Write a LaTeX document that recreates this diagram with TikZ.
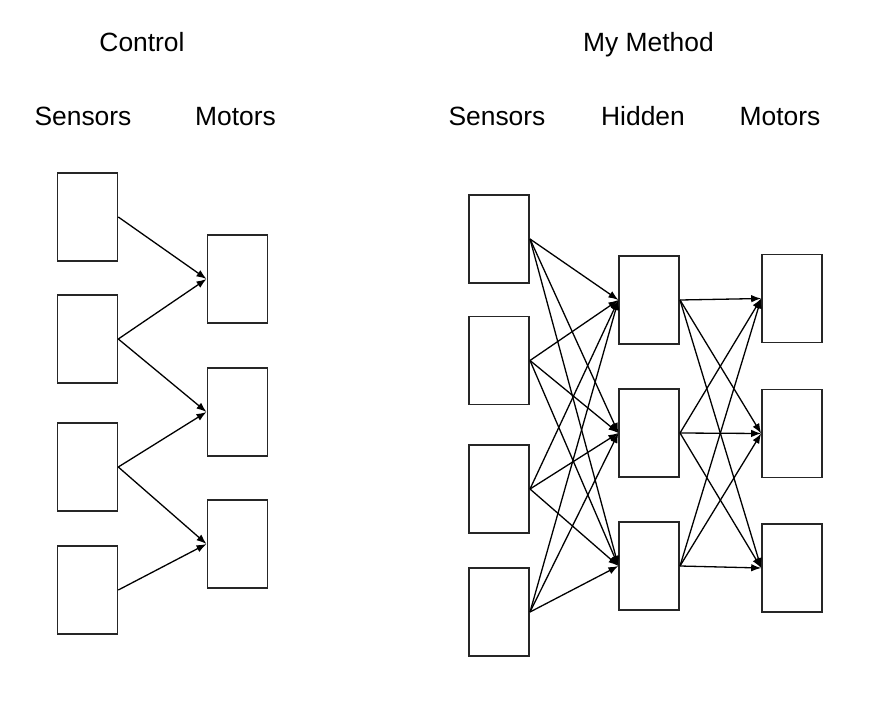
\documentclass[tikz,border=0pt]{standalone}
\usepackage{fontspec}
\setmainfont{Liberation Sans}
\usetikzlibrary{arrows.meta}

\begin{document}
\begin{tikzpicture}[
    x=1pt, y=-1pt,
    unit/.style={rectangle, draw=black!85, line width=1.6pt, fill=white,
        minimum width=60pt, minimum height=88pt, inner sep=0pt},
    heading/.style={anchor=base, inner sep=0pt, font=\fontsize{26.4}{30}\selectfont},
    edge/.style={line width=1.3pt, -{Latex[length=10pt,width=7.5pt]}}
]
    \useasboundingbox (0,0) rectangle (884,712);
    % headings
    \node[heading] (ctrl) at (142,51) {Control};
    \node[heading] (mine) at (648.5,51) {My Method};
    \node[heading] (lsens) at (83,125) {Sensors};
    \node[heading] (lmot) at (235.5,125) {Motors};
    \node[heading] (rsens) at (497,125) {Sensors};
    \node[heading] (rhid) at (643,125) {Hidden};
    \node[heading] (rmot) at (780,125) {Motors};
    % control network
    \node[unit] (s1) at (87.5,217) {};
    \node[unit] (s2) at (87.5,339) {};
    \node[unit] (s3) at (87.5,467) {};
    \node[unit] (s4) at (87.5,590) {};
    \node[unit] (m1) at (237.3,279) {};
    \node[unit] (m2) at (237.3,412) {};
    \node[unit] (m3) at (237.3,544) {};
    \draw[edge] (s1.east) -- (m1.west);
    \draw[edge] (s2.east) -- (m1.west);
    \draw[edge] (s2.east) -- (m2.west);
    \draw[edge] (s3.east) -- (m2.west);
    \draw[edge] (s3.east) -- (m3.west);
    \draw[edge] (s4.east) -- (m3.west);
    % my method network
    \node[unit] (t1) at (499.2,239) {};
    \node[unit] (t2) at (499.2,360.5) {};
    \node[unit] (t3) at (499.2,489) {};
    \node[unit] (t4) at (499.2,612) {};
    \node[unit] (h1) at (649.2,300) {};
    \node[unit] (h2) at (649.2,433) {};
    \node[unit] (h3) at (649.2,566) {};
    \node[unit] (n1) at (792,298.5) {};
    \node[unit] (n2) at (792,433.5) {};
    \node[unit] (n3) at (792,568) {};
    \draw[edge] (t1.east) -- (h1.west);
    \draw[edge] (t1.east) -- (h2.west);
    \draw[edge] (t1.east) -- (h3.west);
    \draw[edge] (t2.east) -- (h1.west);
    \draw[edge] (t2.east) -- (h2.west);
    \draw[edge] (t2.east) -- (h3.west);
    \draw[edge] (t3.east) -- (h1.west);
    \draw[edge] (t3.east) -- (h2.west);
    \draw[edge] (t3.east) -- (h3.west);
    \draw[edge] (t4.east) -- (h1.west);
    \draw[edge] (t4.east) -- (h2.west);
    \draw[edge] (t4.east) -- (h3.west);
    \draw[edge] (h1.east) -- (n1.west);
    \draw[edge] (h1.east) -- (n2.west);
    \draw[edge] (h1.east) -- (n3.west);
    \draw[edge] (h2.east) -- (n1.west);
    \draw[edge] (h2.east) -- (n2.west);
    \draw[edge] (h2.east) -- (n3.west);
    \draw[edge] (h3.east) -- (n1.west);
    \draw[edge] (h3.east) -- (n2.west);
    \draw[edge] (h3.east) -- (n3.west);
\end{tikzpicture}
\end{document}
